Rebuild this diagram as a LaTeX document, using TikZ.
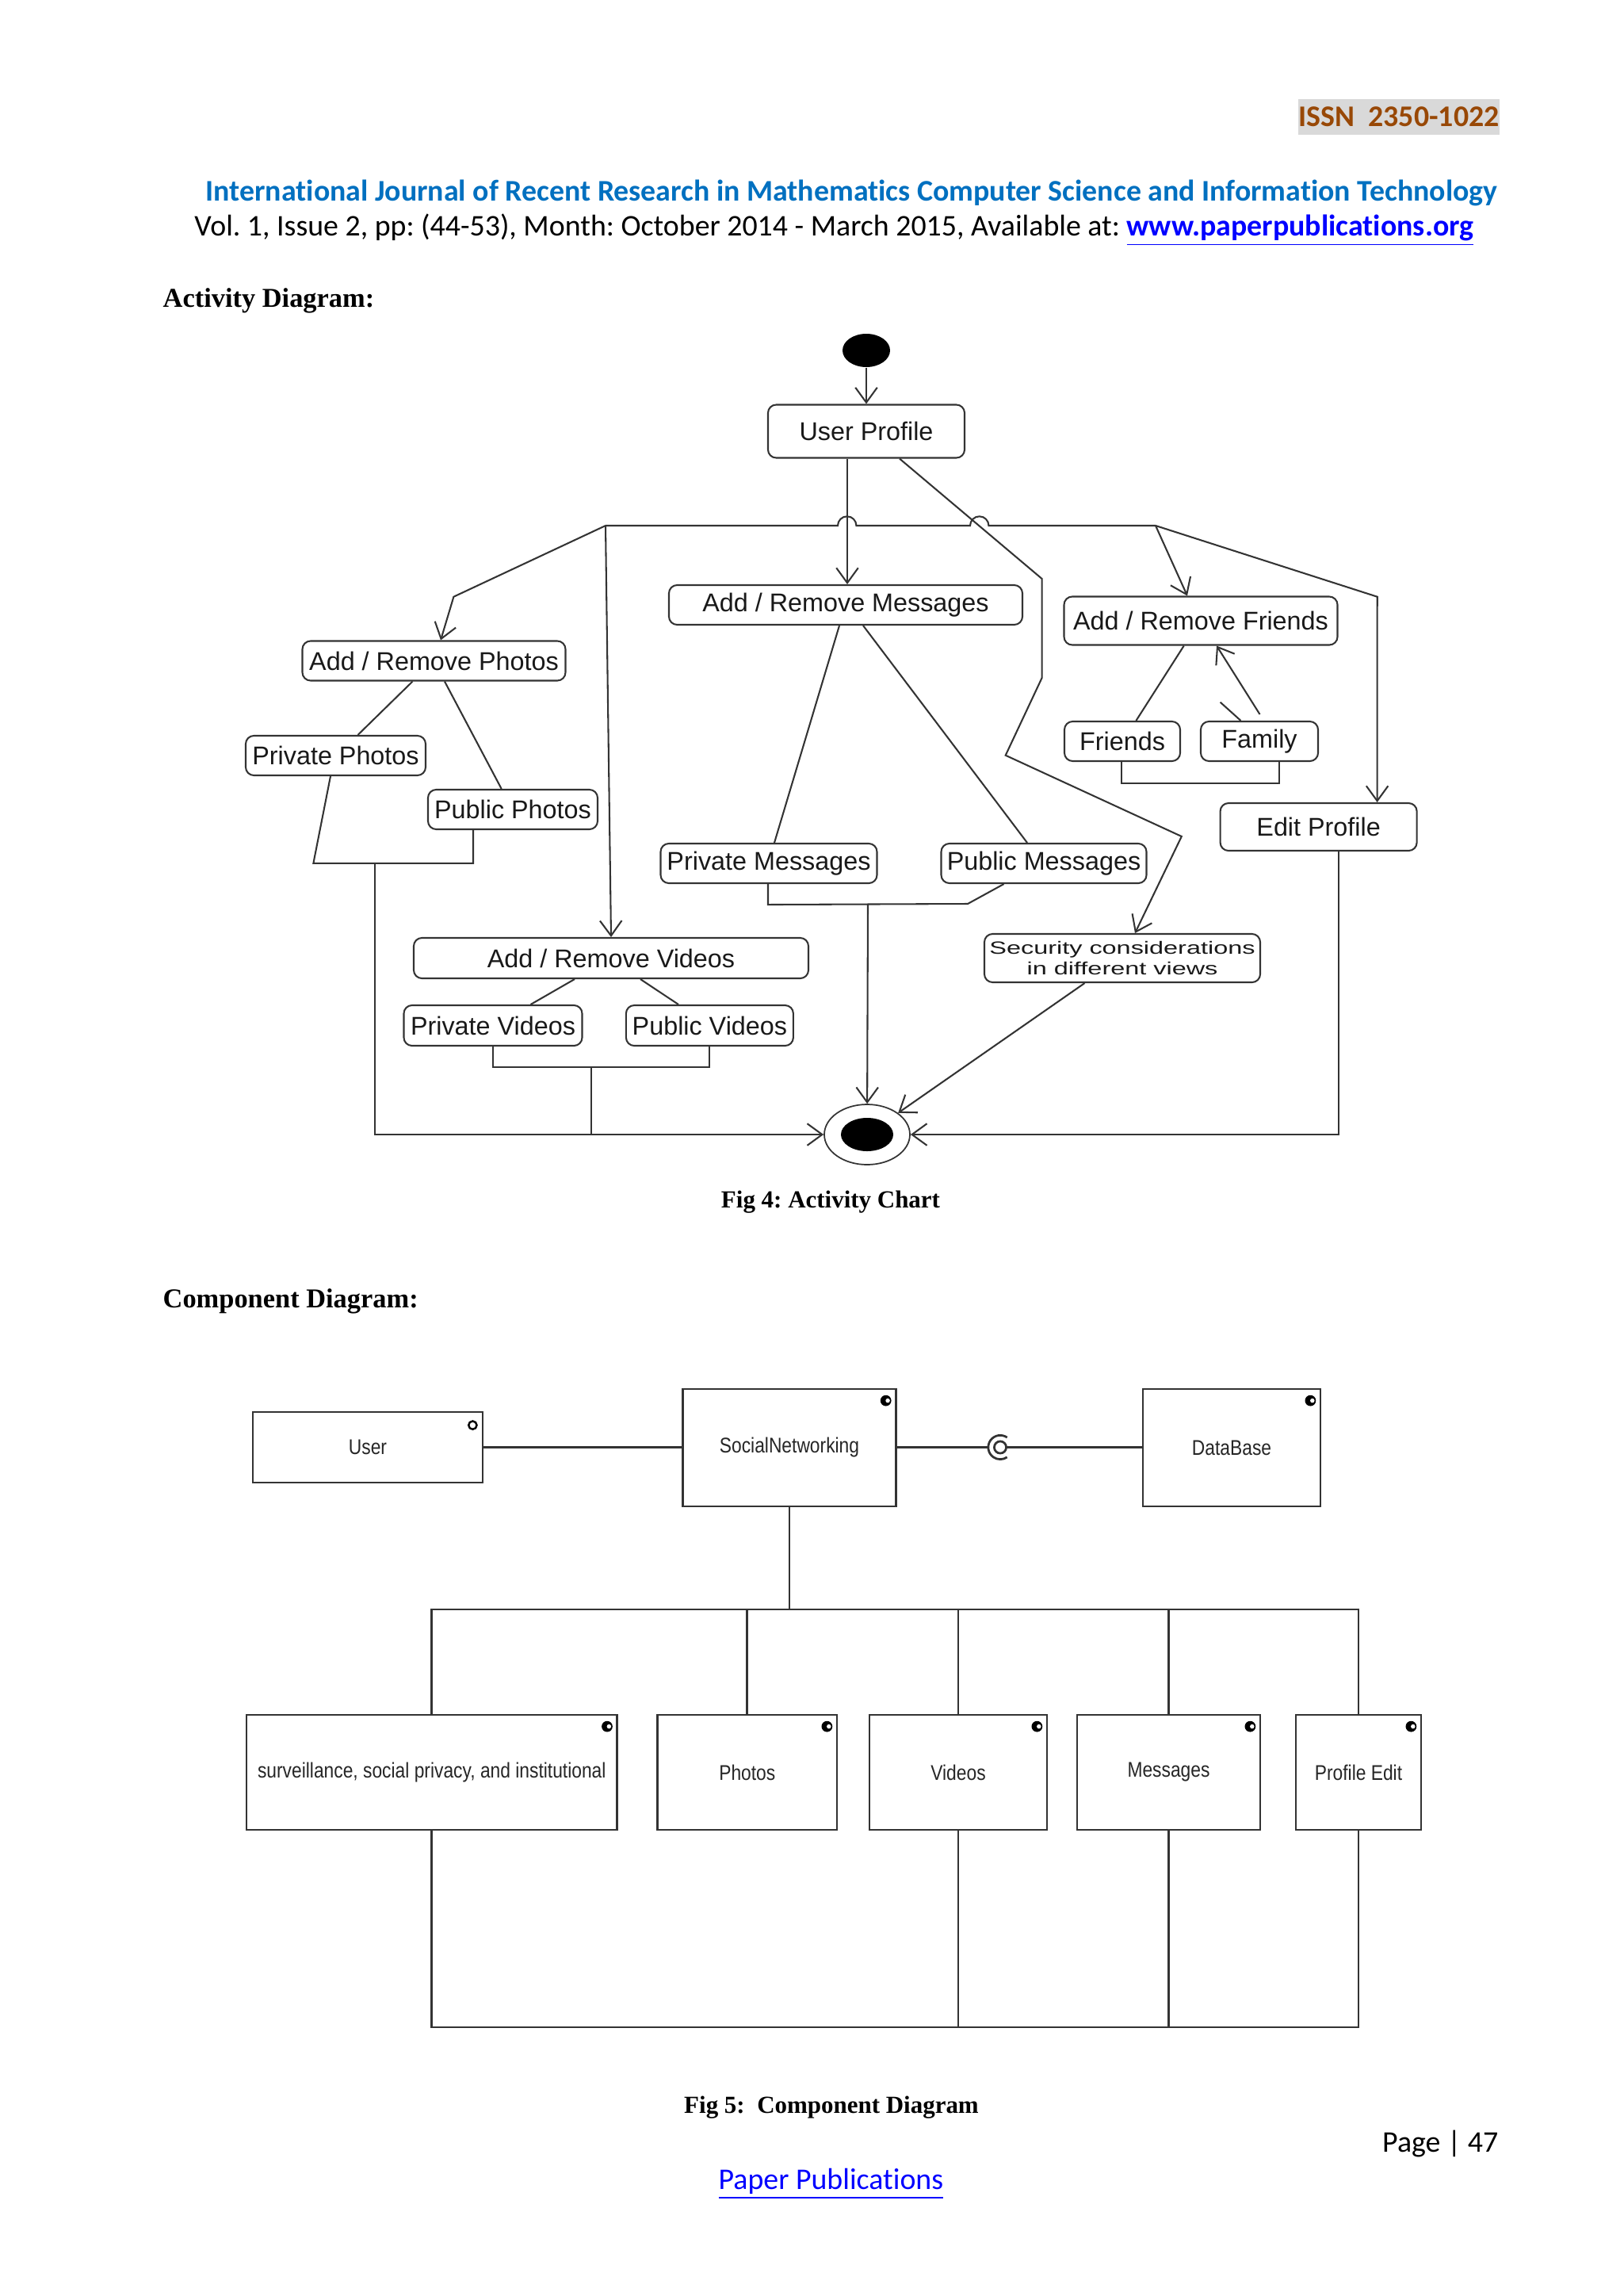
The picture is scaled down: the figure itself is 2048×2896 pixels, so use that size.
\documentclass[tikz,border=0pt]{standalone}
\usepackage{fontspec}
\usetikzlibrary{shapes.geometric,arrows.meta}
\setmainfont{Liberation Serif}
\newfontfamily\calibri[Ligatures=NoCommon]{Carlito}
\newfontfamily\arialf{Liberation Sans}
\newfontfamily\compf[FakeStretch=0.85]{Liberation Sans}
\newfontfamily\secf[FakeStretch=1.45]{Liberation Sans}
\newcommand\pxu{0.29066pt}
\newcommand\tightlines{\setlength{\lineskiplimit}{-20pt}}
\definecolor{issnbrown}{HTML}{984806}
\definecolor{issngray}{HTML}{D9D9D9}
\definecolor{jblue}{HTML}{0070C0}
\definecolor{lblue}{HTML}{0000FF}
\definecolor{ln}{HTML}{333333}
\frenchspacing
\begin{document}
\frenchspacing
\begin{tikzpicture}[x=\pxu,y=-\pxu,
  abox/.style 2 args={draw=ln, line width=0.6pt, rounded corners=3pt, minimum width=#1*\pxu, minimum height=#2*\pxu, inner sep=0pt, text=black!90, font=\arialf\fontsize{9.4pt}{11pt}\selectfont},
  cbox/.style 2 args={draw=ln, line width=0.8pt, minimum width=#1*\pxu, minimum height=#2*\pxu, inner sep=0pt, text=black!85, font=\compf\fontsize{7.8pt}{9pt}\selectfont},
  aline/.style={draw=ln, line width=0.6pt},
  arr/.style={aline, -{Straight Barb[length=5.5pt,width=8pt]}},
  cline/.style={draw=ln, line width=0.8pt},
  compicon/.pic={\fill[black] (0,0) circle[radius=2pt]; \fill[white] (0.7pt,0) circle[radius=0.8pt];},
  usericon/.pic={\draw[black, line width=0.7pt] (0,0) circle[radius=1.5pt];},
  ttlstyle/.style={inner sep=0pt, font=\bfseries\fontsize{10pt}{12pt}\selectfont},
  figcap/.style={inner sep=0pt, font=\bfseries\fontsize{9pt}{11pt}\selectfont},
  hdrstyle/.style={inner sep=0pt, font=\calibri\fontsize{11pt}{13pt}\selectfont}
]
\useasboundingbox (0,0) rectangle (2048,2896);
\fill[white] (0,0) rectangle (2048,2896);

% ---------- header ----------
\node[fill=issngray, minimum width=254*\pxu, minimum height=45*\pxu, inner sep=0pt, font=\calibri\bfseries\fontsize{11pt}{13pt}\selectfont, text=issnbrown] (issn) at (1765,147.5) {ISSN\ \ 2350-1022};
\node[hdrstyle, anchor=base east, font=\calibri\bfseries\fontsize{11pt}{13pt}\selectfont, text=jblue] (jt) at (1890,253) {International Journal of Recent Research in Mathematics Computer Science and Information Technology};
\node[hdrstyle, anchor=base east] (vol) at (1860,297) {Vol. 1, Issue 2, pp: (44-53), Month: October 2014 - March 2015, Available at: {\bfseries\color{lblue}\underline{www.paperpublications.org}}};
\node[ttlstyle, anchor=base west] (h1) at (205,387) {Activity Diagram:};

% ---------- activity diagram ----------
\node[ellipse, fill=black, minimum width=60*\pxu, minimum height=42*\pxu, inner sep=0pt] (init) at (1093,442) {};
\node[abox={248}{67}] (UP) at (1093,544) {User Profile};
\node[abox={446}{50}] (ARM) at (1067,763) {Add / Remove Messages};
\node[abox={332}{50}] (ARP) at (547.5,833.5) {Add / Remove Photos};
\node[abox={227}{50}] (PrivP) at (423.5,953) {Private Photos};
\node[abox={214}{50}] (PubP) at (647,1021) {Public Photos};
\node[abox={345}{61}] (ARF) at (1515,783) {Add / Remove Friends};
\node[abox={146}{50}] (Fr) at (1416,935) {Friends};
\node[abox={148}{50}] (Fa) at (1589,935) {Family};
\node[abox={248}{60}] (EP) at (1663.6,1043) {Edit Profile};
\node[abox={273}{50}] (PrivM) at (970,1089) {Private Messages};
\node[abox={259}{50}] (PubM) at (1317,1089) {Public Messages};
\node[abox={498}{51}] (ARV) at (771,1208.5) {Add / Remove Videos};
\node[abox={225}{51}] (PrivV) at (622,1293.5) {Private Videos};
\node[abox={211}{51}] (PubV) at (895.4,1293.5) {Public Videos};
\node[abox={348}{61}, align=center, font=\secf\fontsize{6.5pt}{7.7pt}\selectfont, execute at begin node=\tightlines] (Sec) at (1416,1208.5) {Security considerations\\in different views};
\node[ellipse, draw=ln, line width=0.5pt, minimum width=108*\pxu, minimum height=76*\pxu, inner sep=0pt] (fin) at (1094,1431) {};
\fill[black] (fin.center) ellipse (33 and 21);

\draw[arr] (init) -- (UP);
\coordinate (upL) at ([xshift=-24*\pxu]UP.south);
\draw[arr] (upL) -- (upL |- ARM.north);

\coordinate (barL) at (764,663);
\coordinate (barR) at (1458,663);
\draw[aline] (barL) -- (1057,663) arc[start angle=180,end angle=0,radius=3.4pt] -- (1224,663) arc[start angle=180,end angle=0,radius=3.4pt] -- (barR);
\draw[arr] (barL) -- (572.4,752.7) -- ([xshift=8.5*\pxu]ARP.north);
\draw[arr] (barL) -- (ARV.north);
\draw[arr] (barR) -- ([xshift=-17*\pxu]ARF.north);
\draw[arr] (barR) -- (1737.7,752.7) -- ([xshift=74*\pxu]EP.north);
\draw[arr] ([xshift=42*\pxu]UP.south) -- (1314.6,730) -- (1314.6,855) -- (1268.7,952.7) -- (1490.8,1055) -- ([xshift=16*\pxu]Sec.north);

\draw[aline] ([xshift=-8*\pxu]ARM.south) -- ([xshift=7*\pxu]PrivM.north);
\draw[aline] ([xshift=22*\pxu]ARM.south) -- ([xshift=-21*\pxu]PubM.north);
\draw[aline] ([xshift=-1*\pxu]PrivM.south) -- ++(0,26) -- (1221,1140) -- ([xshift=-50.5*\pxu]PubM.south);
\coordinate (mM) at (1095,1140);
\draw[arr] (mM) -- (fin);
\draw[arr] ([xshift=-47.5*\pxu]Sec.south) -- (fin);

\draw[aline] ([xshift=-27*\pxu]ARP.south) -- ([xshift=28*\pxu]PrivP.north);
\draw[aline] ([xshift=13.5*\pxu]ARP.south) -- ([xshift=-14.3*\pxu]PubP.north);
\draw[aline] ([xshift=-6.5*\pxu]PrivP.south) -- (395.4,1088.8) -- (597,1088.8) -- ([xshift=-50*\pxu]PubP.south);
\coordinate (mP) at (473,1088.8);
\draw[arr] (mP) |- (fin.west);

\draw[aline] ([xshift=-46*\pxu]ARV.south) -- ([xshift=47.5*\pxu]PrivV.north);
\draw[aline] ([xshift=37*\pxu]ARV.south) -- ([xshift=-39.4*\pxu]PubV.north);
\draw[aline] (PrivV.south) -- ++(0,26) -| (PubV.south);
\coordinate (mV) at (745.8,1345);
\draw[aline] (mV) -- (mV |- fin.west);

\draw[aline] ([xshift=-21.3*\pxu]ARF.south) -- ([xshift=17.4*\pxu]Fr.north);
\coordinate (faT) at (1589.5,901);
\draw[arr] (faT) -- ([xshift=20*\pxu]ARF.south);
\coordinate (stray) at (1539.6,885.7);
\draw[aline] (stray) -- ([xshift=-23.5*\pxu]Fa.north);
\draw[aline] ([xshift=-1*\pxu]Fr.south) -- ++(0,27) -| ([xshift=25*\pxu]Fa.south);
\draw[arr] ([xshift=25.4*\pxu]EP.south) |- (fin.east);

\node[figcap, anchor=base] (c1) at (1048,1523) {Fig 4: Activity Chart};

% ---------- component diagram ----------
\node[ttlstyle, anchor=base west] (h2) at (205,1649) {Component Diagram:};
\node[cbox={290}{89}] (User) at (464,1825.5) {User};
\node[cbox={268.6}{148}] (SN) at (996,1826) {SocialNetworking};
\node[cbox={224}{148}] (DB) at (1554,1826) {DataBase};
\node[cbox={467.6}{145}] (Surv) at (544.8,2235.5) {surveillance, social privacy, and institutional};
\node[cbox={226.4}{145}] (Ph) at (942.8,2235.5) {Photos};
\node[cbox={224}{145}] (Vi) at (1209,2235.5) {Videos};
\node[cbox={231}{145}] (Me) at (1474.5,2235.5) {Messages};
\node[cbox={158}{145}] (PE) at (1714,2235.5) {Profile Edit};

\pic at ([xshift=-14*\pxu,yshift=-18*\pxu]User.north east) {usericon};
\foreach \n in {SN,DB,Surv,Ph,Vi,Me,PE}{
  \pic at ([xshift=-14*\pxu,yshift=-16*\pxu]\n.north east) {compicon};
}

\draw[cline] (User.east) -- (User.east -| SN.west);
\coordinate (ball) at (1262,1825.5);
\draw[cline] (SN.east |- ball) -- ([xshift=-15*\pxu]ball);
\draw[cline] (ball) circle[radius=2.2pt];
\draw[cline] ([xshift=2.2pt]ball) -- (DB.west |- ball);
\draw[cline] (ball) ++(55:4.4pt) arc[start angle=55,end angle=305,radius=4.4pt];

\coordinate (busT) at (0,2030);
\coordinate (busB) at (0,2557);
\draw[cline] (SN.south) -- (SN.south |- busT);
\draw[cline] (Surv.north) |- (PE.north |- busT) -- (PE.north);
\foreach \n in {Ph,Vi,Me}{ \draw[cline] (\n.north) -- (\n.north |- busT); }
\draw[cline] (Surv.south) |- (PE.south |- busB) -- (PE.south);
\foreach \n in {Vi,Me}{ \draw[cline] (\n.south) -- (\n.south |- busB); }

\node[figcap, anchor=base] (c2) at (1049,2665) {Fig 5:\ \ Component Diagram};

% ---------- footer ----------
\node[hdrstyle, anchor=base east] (pg) at (1891,2714) {Page | 47};
\node[hdrstyle, anchor=base west, text=lblue] (pp) at (906,2761) {\underline{Paper Publications}};
\end{tikzpicture}
\end{document}
